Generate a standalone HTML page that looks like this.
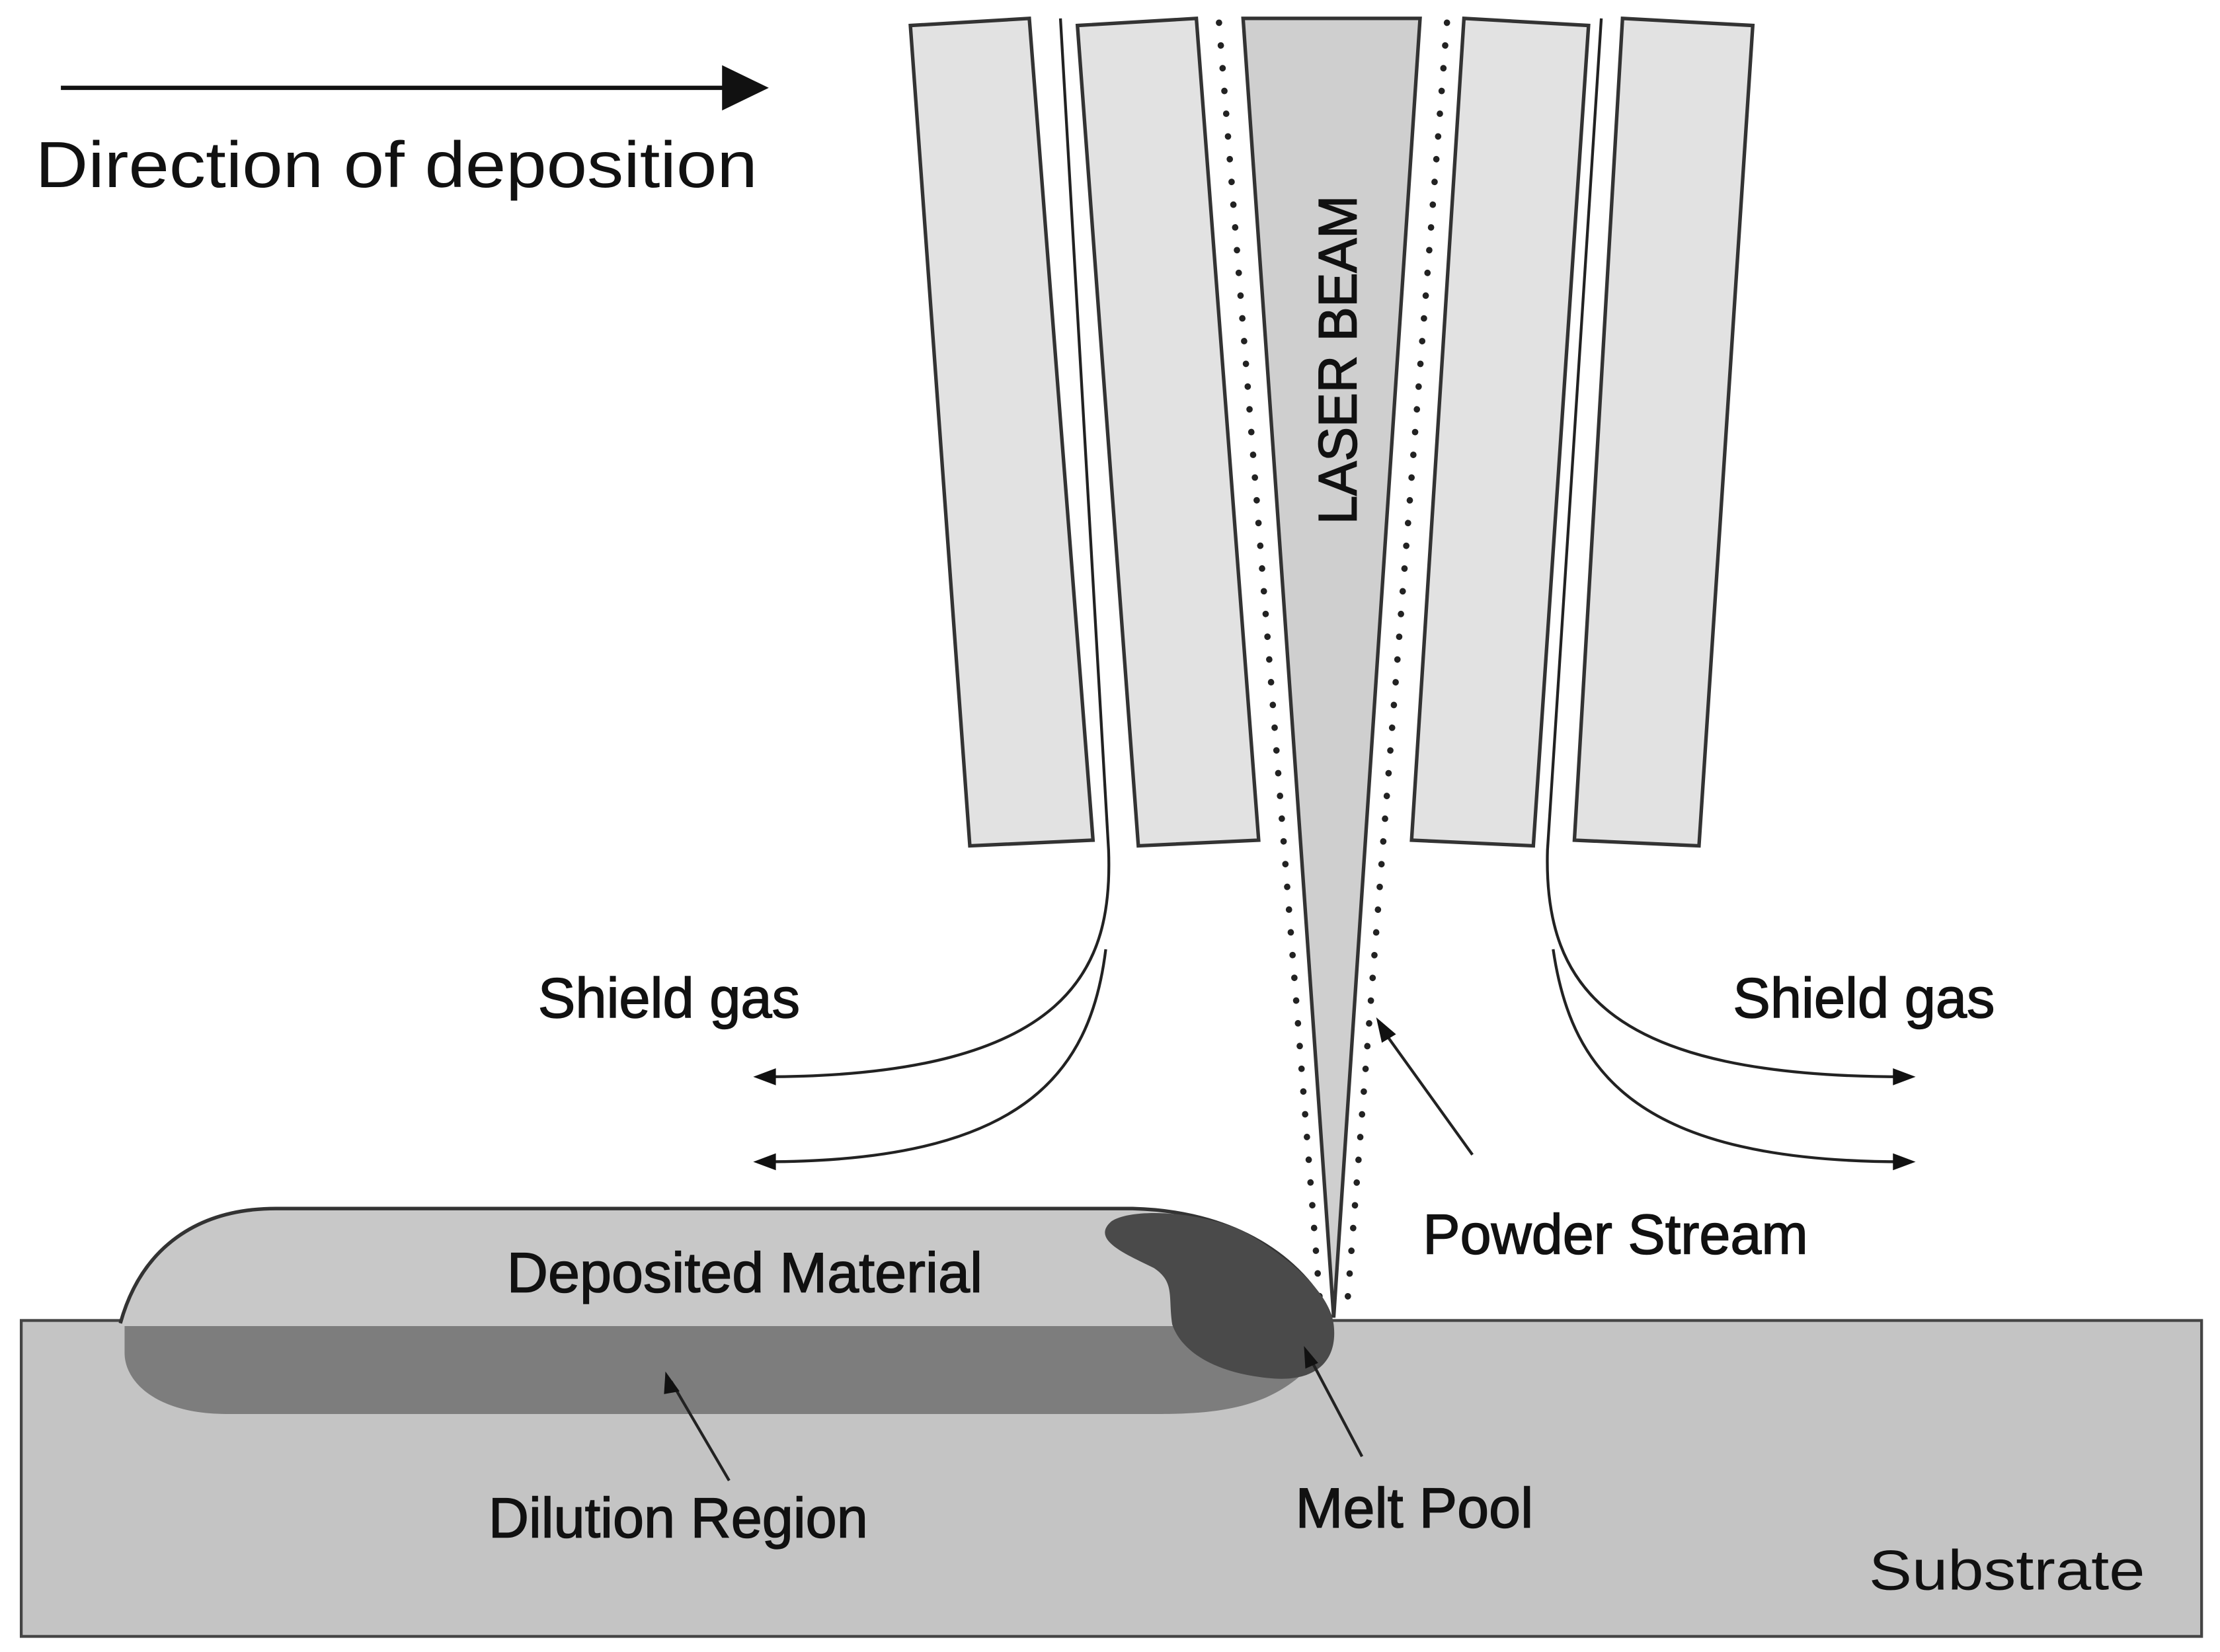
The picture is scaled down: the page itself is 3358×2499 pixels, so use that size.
<!DOCTYPE html>
<html><head><meta charset="utf-8"><style>html,body{margin:0;padding:0;background:#fff}svg{display:block}</style></head>
<body>
<svg width="3358" height="2499" viewBox="0 0 1568 1166" preserveAspectRatio="none" xmlns="http://www.w3.org/2000/svg" font-family="'Liberation Sans', sans-serif">
<rect width="1568" height="1166" fill="#fff"/>
<!-- direction arrow -->
<line x1="43" y1="62" x2="515" y2="62" stroke="#111" stroke-width="3"/>
<path d="M510,46 L543,62 L510,78 Z" fill="#111"/>
<text x="25" y="132" font-size="46" fill="#111" textLength="510" lengthAdjust="spacingAndGlyphs">Direction of deposition</text>
<!-- nozzle plates -->
<g fill="#e2e2e2" stroke="#333" stroke-width="2.5">
<polygon points="643,18 727,13 772,593 685,597"/>
<polygon points="761,18 845,13 889,593 804,597"/>
<polygon points="1034,13 1122,18 1083,597 997,593"/>
<polygon points="1146,13 1238,18 1200,597 1112,593"/>
</g>
<!-- laser beam -->
<polygon points="878,13 1003,13 942,930" fill="#cfcfcf" stroke="#333" stroke-width="2.5"/>
<text transform="translate(958,370) rotate(-90)" font-size="38" fill="#111" stroke="#111" stroke-width="0.8" textLength="232" lengthAdjust="spacingAndGlyphs">LASER BEAM</text>
<!-- powder dots -->
<line x1="861" y1="16" x2="933" y2="928" stroke="#222" stroke-width="4.5" stroke-dasharray="0.1 16" stroke-linecap="round"/>
<line x1="1022" y1="16" x2="951" y2="928" stroke="#222" stroke-width="4.5" stroke-dasharray="0.1 16" stroke-linecap="round"/>
<!-- gas lines -->
<g fill="none" stroke="#222" stroke-width="2">
<path d="M749,13 L783,600 C786,680 760,760 540,760"/>
<path d="M781,670 C770,760 720,820 540,820"/>
<path d="M1131,13 L1093,600 C1090,700 1140,760 1345,760"/>
<path d="M1097,670 C1110,760 1160,820 1345,820"/>
</g>
<path d="M548,754 L532,760 L548,766 Z" fill="#111"/>
<path d="M548,814 L532,820 L548,826 Z" fill="#111"/>
<path d="M1337,754 L1353,760 L1337,766 Z" fill="#111"/>
<path d="M1337,814 L1353,820 L1337,826 Z" fill="#111"/>
<!-- substrate -->
<rect x="15" y="932" width="1540" height="223" fill="#c4c4c4" stroke="#444" stroke-width="2"/>
<!-- deposited material -->
<path d="M85,934 C100,880 140,853 195,853 L800,853 C880,855 925,895 940,930 L940,936 L85,936 Z" fill="#c8c8c8"/>
<path d="M85,934 C100,880 140,853 195,853 L800,853 C880,855 925,895 940,930" fill="none" stroke="#333" stroke-width="2.5"/>
<!-- dilution -->
<path d="M88,936 L932,936 L925,965 C900,990 870,998 820,998 L160,998 C110,998 88,975 88,955 Z" fill="#7d7d7d"/>
<!-- melt pool -->
<path d="M785,862 C800,852 850,855 880,870 C915,890 940,915 942,935 C945,960 930,975 900,973 C860,970 835,955 828,935 C825,915 830,905 815,895 C795,885 770,875 785,862 Z" fill="#4a4a4a"/>
<!-- labels -->
<g fill="#111" stroke="#111" stroke-width="0.7" font-size="40">
<text x="380" y="718" textLength="185" lengthAdjust="spacingAndGlyphs">Shield gas</text>
<text x="1224" y="718" textLength="185" lengthAdjust="spacingAndGlyphs">Shield gas</text>
<text x="1005" y="885" textLength="272" lengthAdjust="spacingAndGlyphs">Powder Stream</text>
<text x="358" y="912" textLength="336" lengthAdjust="spacingAndGlyphs">Deposited Material</text>
<text x="345" y="1085" textLength="268" lengthAdjust="spacingAndGlyphs">Dilution Region</text>
<text x="915" y="1078" textLength="168" lengthAdjust="spacingAndGlyphs">Melt Pool</text>
</g>
<text x="1320" y="1122" font-size="40" fill="#111" textLength="195" lengthAdjust="spacingAndGlyphs">Substrate</text>
<!-- leader lines -->
<g stroke="#222" stroke-width="2" fill="none">
<line x1="1040" y1="815" x2="976" y2="726"/>
<line x1="515" y1="1045" x2="474" y2="975"/>
<line x1="962" y1="1028" x2="925" y2="958"/>
</g>
<path d="M972,718 L986,730 L976,736 Z" fill="#111"/>
<path d="M470,968 L480,982 L469,984 Z" fill="#111"/>
<path d="M921,950 L931,962 L922,966 Z" fill="#111"/>
</svg>
</body></html>
